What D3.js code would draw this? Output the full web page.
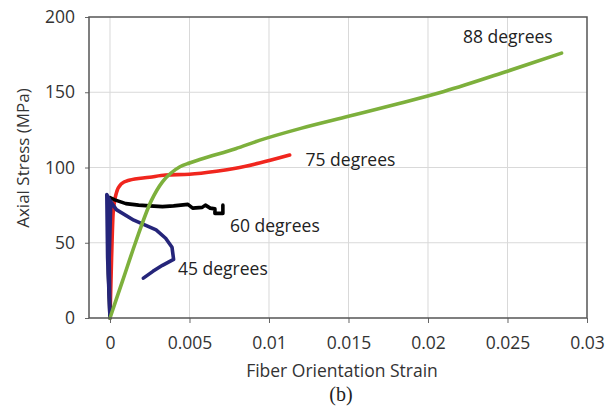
<!DOCTYPE html>
<html>
<head>
<meta charset="utf-8">
<script src="https://cdn.jsdelivr.net/npm/d3@7/dist/d3.min.js"></script>
<style>
  html, body { margin: 0; padding: 0; background: #fff; }
  svg { display: block; }
  text { font-family: "Open Sans", "Liberation Sans", sans-serif; }
</style>
</head>
<body>
<svg id="chart" width="613" height="412"></svg>
<script>
// ---- data ----
const xTicks = [0, 0.005, 0.01, 0.015, 0.02, 0.025, 0.03];
const xTickLabels = ["0", "0.005", "0.01", "0.015", "0.02", "0.025", "0.03"];
const yTicks = [0, 50, 100, 150, 200];
const yTickLabels = ["0", "50", "100", "150", "200"];

const series88 = [[0,0],[0.0008,25],[0.0016,50],[0.0026,78],[0.0033,90.5],[0.0038,96],[0.0044,100.5],[0.005,103],[0.0057,105.5],[0.0079,112.5],[0.0094,118],[0.012,126],[0.015,134],[0.018,142],[0.021,150.5],[0.025,164],[0.0284,176]];
const series75 = [[0,0],[0.0001,40],[0.0002,70],[0.0004,83],[0.0007,89],[0.0012,91.5],[0.0025,93.5],[0.0035,95],[0.005,95.5],[0.0067,97.5],[0.0079,99.5],[0.0094,103],[0.0113,108.3]];
const series60 = [[0,0],[-0.0001,30],[-0.0001,60],[0,80],[0.0003,78.5],[0.001,76],[0.0018,75],[0.0025,74.5],[0.0033,74],[0.004,74.5],[0.0049,75.5],[0.0052,73],[0.0058,73.5],[0.006,75],[0.0063,73],[0.0066,72.5],[0.0066,69.5],[0.0071,69.5],[0.0071,75]];
const series45 = [[0,0],[-0.00015,40],[-0.0002,82],[0.00005,77],[-0.00005,40],[0,0],[-0.0001,60],[0,78],[0.0004,72],[0.0015,65],[0.0029,58.5],[0.0035,53],[0.0039,47],[0.004,39],[0.0033,35],[0.0027,31],[0.0021,26.5]];

const labels = ["88 degrees", "75 degrees", "60 degrees", "45 degrees"];
const labelPos = [[0.0222, 183], [0.0123, 100.8], [0.00755, 57.2], [0.00428, 28.6]];
const colors = ["#7db03c", "#f0261e", "#000000", "#25257a"];

// ---- layout ----
const svg = d3.select("#chart");
const mLeft = 89, mRight = 587, mTop = 17, mBottom = 318;
const x = d3.scaleLinear().domain([-0.00132, 0.03]).range([mLeft, mRight]);
const y = d3.scaleLinear().domain([0, 200]).range([mBottom, mTop]);

// gridlines
svg.append("g").selectAll("line").data(xTicks.slice(0, -1)).join("line")
  .attr("x1", d => x(d)).attr("x2", d => x(d))
  .attr("y1", mTop).attr("y2", mBottom)
  .attr("stroke", "#d9d9d9").attr("stroke-width", 1);
svg.append("g").selectAll("line").data(yTicks.slice(1, -1)).join("line")
  .attr("x1", mLeft).attr("x2", mRight)
  .attr("y1", d => y(d)).attr("y2", d => y(d))
  .attr("stroke", "#d9d9d9").attr("stroke-width", 1);

// axes
const xAxis = d3.axisBottom(x).tickValues(xTicks).tickFormat((d, i) => xTickLabels[i]).tickSize(5).tickPadding(14);
const gx = svg.append("g").attr("transform", `translate(0,${mBottom})`).call(xAxis);
gx.select(".domain").remove();
gx.selectAll(".tick line").attr("stroke", "#666");
gx.selectAll(".tick text").attr("font-size", 17.5).attr("fill", "#333")
  .attr("font-family", "'Open Sans', sans-serif");

const yAxis = d3.axisLeft(y).tickValues(yTicks).tickFormat((d, i) => yTickLabels[i]).tickSize(4).tickPadding(10);
const gy = svg.append("g").attr("transform", `translate(${mLeft},0)`).call(yAxis);
gy.select(".domain").remove();
gy.selectAll(".tick line").attr("stroke", "#666");
gy.selectAll(".tick text").attr("font-size", 17.5).attr("fill", "#333")
  .attr("font-family", "'Open Sans', sans-serif");

// series
const lineSmooth = d3.line().x(d => x(d[0])).y(d => y(d[1])).curve(d3.curveMonotoneX);
const lineSharp = d3.line().x(d => x(d[0])).y(d => y(d[1]));
const all = [series88, series75, series60, series45];
const gens = [lineSmooth, lineSmooth, lineSharp, lineSharp];
const order = [1, 2, 3, 0];
order.forEach(i => {
  svg.append("path").datum(all[i])
    .attr("d", gens[i])
    .attr("fill", "none")
    .attr("stroke", colors[i])
    .attr("stroke-width", 3.6)
    .attr("stroke-linejoin", "round")
    .attr("stroke-linecap", "round");
});

// plot box
svg.append("rect").attr("x", mLeft).attr("y", mTop)
  .attr("width", mRight - mLeft).attr("height", mBottom - mTop)
  .attr("fill", "none").attr("stroke", "#555").attr("stroke-width", 1.5);

// series labels
svg.append("g").selectAll("text").data(labels).join("text")
  .attr("x", (d, i) => x(labelPos[i][0]))
  .attr("y", (d, i) => y(labelPos[i][1]))
  .attr("font-size", 17.5).attr("fill", "#222")
  .text(d => d);

// axis titles
svg.append("text").attr("x", 342).attr("y", 377).attr("text-anchor", "middle")
  .attr("font-size", 17.5).attr("fill", "#333").text("Fiber Orientation Strain");
svg.append("text").attr("transform", "translate(29,158) rotate(-90)").attr("text-anchor", "middle")
  .attr("font-size", 17).attr("fill", "#333").text("Axial Stress (MPa)");
svg.append("text").attr("x", 341).attr("y", 401).attr("text-anchor", "middle")
  .attr("font-size", 20).attr("fill", "#222")
  .style("font-family", "'Liberation Serif', serif").text("(b)");
</script>
</body>
</html>
